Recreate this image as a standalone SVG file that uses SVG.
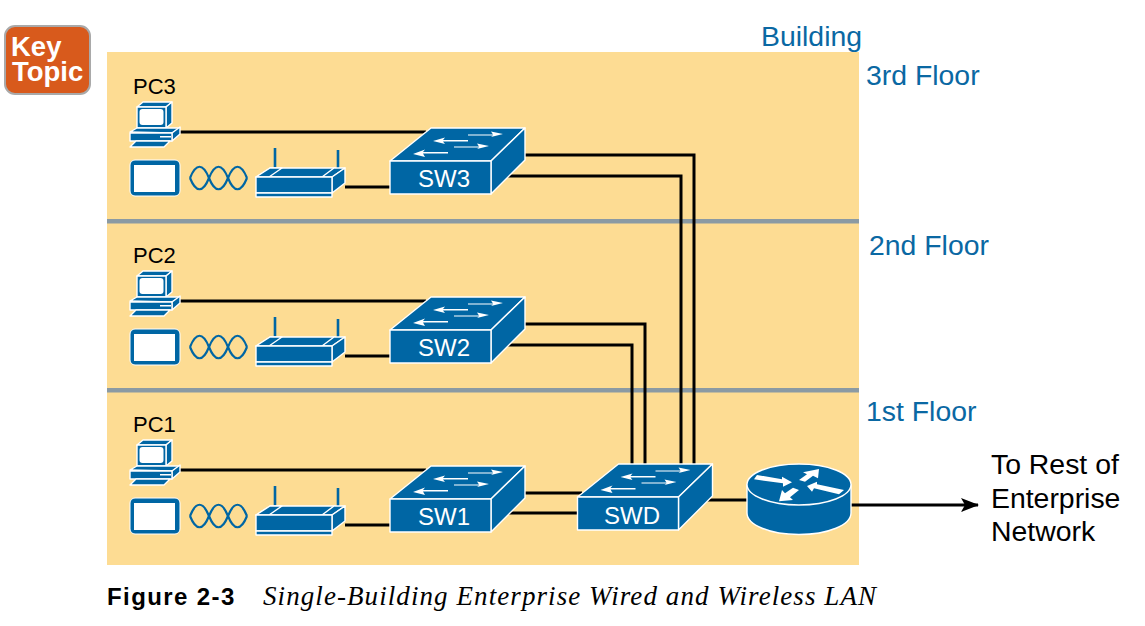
<svg xmlns="http://www.w3.org/2000/svg" width="1145" height="626" viewBox="0 0 1145 626">
<style>
.f{fill:#0066a4;stroke:#fff;stroke-width:1.4;stroke-linejoin:round}
.w{fill:#fff;stroke:none}
.c{fill:none;stroke:#000;stroke-width:3}
.wave{fill:none;stroke:#0066a4;stroke-width:2.2}
.ant{stroke:#0066a4;stroke-width:2.6}
text{font-family:"Liberation Sans",Arial,sans-serif}
.lb{font-size:22px;fill:#000}
.sw{font-size:24px;fill:#fff;text-anchor:middle}
.fl{font-size:28.400px;fill:#0a68a3}
.to{font-size:28.400px;fill:#000}
</style>
<defs>
<marker id="arr" viewBox="0 0 18 14" refX="17" refY="7" markerWidth="18" markerHeight="14" markerUnits="userSpaceOnUse" orient="auto"><path d="M0 0L18 7L0 14L4 7Z" fill="#000"/></marker>
<g id="switch">
<path class="f" d="M0 33L41 0H135L101 33Z"/>
<path class="f" d="M101 33L135 0V32L101 66Z"/>
<rect class="f" x="0" y="33" width="101" height="33"/>
<path class="w" d="M78 6.400H103L101 3.500L113 6L101 9L103 7.600H78Z"/>
<path class="w" d="M78 12H53L55 9.500L43 13L55 16L53 13.500H78Z"/>
<path class="w" d="M64 18.400H89L87 15.500L99 18L87 21L89 19.600H64Z"/>
<path class="w" d="M58 24H33L35 21.500L23 26L35 29L33 25.500H58Z"/>
</g>
<g id="pc">
<path class="f" d="M137 107L143 102H172L166 107Z"/>
<path class="f" d="M166 107L172 102V123L166 128Z"/>
<rect class="f" x="137" y="107" width="29" height="21"/>
<rect class="w" x="139.500" y="109" width="24" height="16" rx="3"/>
<path class="f" d="M130 132L137 128H180L172 133Z"/>
<path class="f" d="M172 133L180 127V134L172 141Z"/>
<rect class="f" x="130" y="133" width="42" height="8"/>
<rect class="w" x="160" y="136" width="11" height="1.500"/>
<path class="f" d="M130 147L136 141H170L164 147Z"/>
</g>
<g id="tablet">
<rect x="130" y="160" width="50" height="36" rx="5" fill="#0066a4" stroke="#fff" stroke-width="1"/>
<rect class="w" x="134" y="165" width="41" height="27"/>
<path class="wave" d="M190 178C196 163 203 163 209 178S222 193 228 178S241 163 247 178"/>
<path class="wave" d="M190 178C196 193 203 193 209 178S222 163 228 178S241 193 247 178"/>
</g>
<g id="ap">
<line class="ant" x1="275" y1="148" x2="275" y2="168"/>
<line class="ant" x1="338" y1="150" x2="338" y2="168"/>
<path class="f" d="M256 177L270 168H335L332 177Z"/>
<path class="f" d="M256 177L270 168H282L269 177Z"/>
<path class="f" d="M322 177L334 168H345L332 177Z"/>
<path class="f" d="M332 177L345 168V183L332 193Z"/>
<rect class="f" x="256" y="177" width="76" height="16"/>
<rect class="f" x="256" y="193" width="76" height="4"/>
</g>
</defs>
<rect id="page" width="1145" height="626" fill="#fff"/>
<rect id="building" x="107" y="52" width="752" height="513" fill="#fddc93"/>
<g id="floors" fill="#8b9aa3">
<rect x="107" y="219" width="752" height="4.500"/>
<rect x="107" y="388" width="752" height="4.500"/>
</g>
<g id="connectors">
<path class="c" d="M180 132H426"/>
<path class="c" d="M345 187H392"/>
<path class="c" d="M180 301H426"/>
<path class="c" d="M345 356H392"/>
<path class="c" d="M180 470H426"/>
<path class="c" d="M345 525H392"/>
<path class="c" d="M524 155H694V466"/>
<path class="c" d="M508 176H681V466"/>
<path class="c" d="M524 324H645V466"/>
<path class="c" d="M508 345H632V466"/>
<path class="c" d="M524 493H582"/>
<path class="c" d="M508 513H579"/>
<path class="c" d="M706 500H750"/>
<path d="M850 505H978" fill="none" stroke="#000" stroke-width="3" marker-end="url(#arr)"/>
</g>
<g id="key-topic">
<rect x="5" y="26" width="85" height="68" rx="10" fill="#d85a1c" stroke="#a9a9a9" stroke-width="2"/>
<text x="11" y="56" font-size="27.500" font-weight="700" fill="#fff">Key</text>
<text x="12" y="81" font-size="27.500" font-weight="700" fill="#fff">Topic</text>
</g>
<g id="labels">
<text class="fl" x="761" y="46">Building</text>
<text class="fl" x="866" y="85">3rd Floor</text>
<text class="fl" x="869" y="255">2nd Floor</text>
<text class="fl" x="866" y="421">1st Floor</text>
</g>
<g id="pc3"><use href="#pc"/><text class="lb" x="133" y="94">PC3</text></g>
<g id="tablet3"><use href="#tablet"/></g>
<g id="ap3"><use href="#ap"/></g>
<g id="sw3"><use href="#switch" x="390" y="128"/><text class="sw" x="444" y="187">SW3</text></g>
<g id="pc2" transform="translate(0 169)"><use href="#pc"/><text class="lb" x="133" y="94">PC2</text></g>
<g id="tablet2" transform="translate(0 169)"><use href="#tablet"/></g>
<g id="ap2" transform="translate(0 169)"><use href="#ap"/></g>
<g id="sw2"><use href="#switch" x="390" y="297"/><text class="sw" x="444" y="356">SW2</text></g>
<g id="pc1" transform="translate(0 338)"><use href="#pc"/><text class="lb" x="133" y="94">PC1</text></g>
<g id="tablet1" transform="translate(0 338)"><use href="#tablet"/></g>
<g id="ap1" transform="translate(0 338)"><use href="#ap"/></g>
<g id="sw1"><use href="#switch" x="390" y="466"/><text class="sw" x="444" y="525">SW1</text></g>
<g id="swd"><use href="#switch" x="577.500" y="464"/><text class="sw" x="632" y="524">SWD</text></g>
<g id="router">
<path class="f" d="M747 484.500V513C747 525 770 534.500 799 534.500S851 525 851 513V484.500Z"/>
<ellipse class="f" cx="799" cy="484.500" rx="52" ry="20.500"/>
<path class="w" d="M757 475L782 479.300L782 476.700L792 482.300L783 486.700L783 483.300L754 479.300Z"/>
<path class="w" d="M799 480L807 474.300L803 472.300L819 469L818 478.300L813 475.700L805 481.700Z"/>
<path class="w" d="M807 486L817 481.700L817 484.300L844 490L839 494.300L814 488.300L812 491.700Z"/>
<path class="w" d="M793 487.700L799 490L790 497.300L793 500L779 501.300L782 490L785 493.300Z"/>
</g>
<g id="to-rest">
<text class="to" x="991" y="474">To Rest of</text>
<text class="to" x="991" y="508">Enterprise</text>
<text class="to" x="991" y="541">Network</text>
</g>
<g id="caption">
<text x="107" y="605" font-size="24" font-weight="700" fill="#000" letter-spacing="1.400">Figure 2-3</text>
<text x="263" y="605" font-size="27" font-style="italic" style="font-family:'Liberation Serif',serif" fill="#000" letter-spacing="1.080">Single-Building Enterprise Wired and Wireless LAN</text>
</g>
</svg>
